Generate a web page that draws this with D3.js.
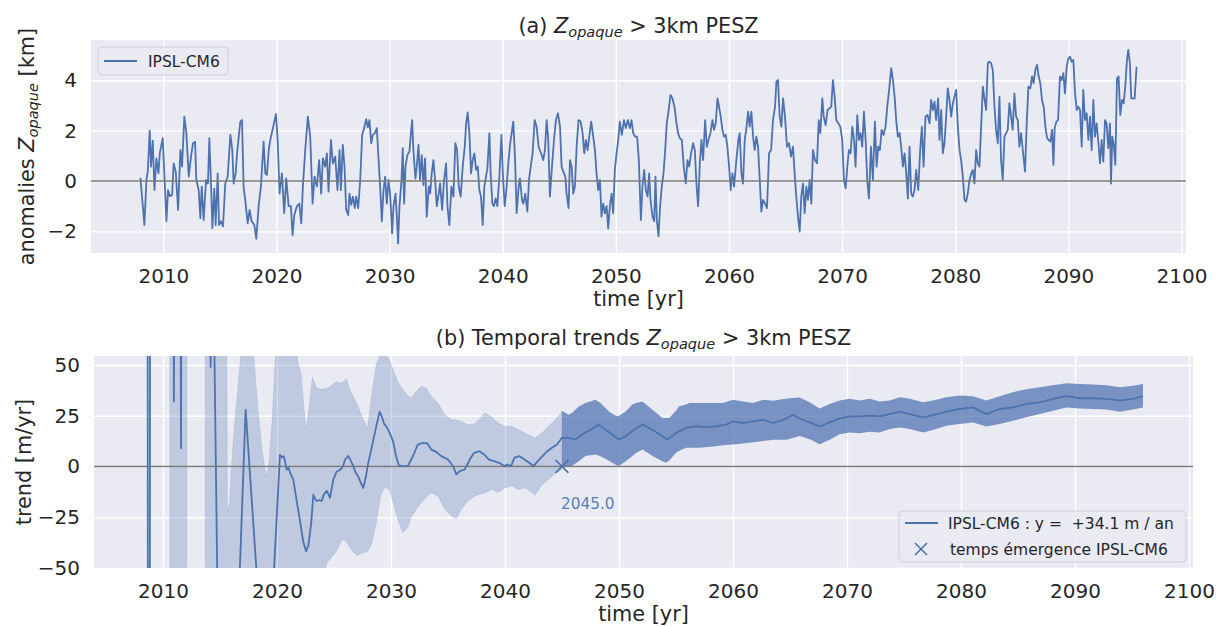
<!DOCTYPE html>
<html><head><meta charset="utf-8">
<script src="https://cdn.jsdelivr.net/npm/d3@7"></script>
<style>
body{margin:0;background:#fff;}
svg text{font-family:"DejaVu Sans",sans-serif;fill:#262626;}
</style></head>
<body><svg id="chart" width="1226" height="626"></svg>
<script>
// ---------- DATA ----------
const xTicks = [2010,2020,2030,2040,2050,2060,2070,2080,2090,2100];
const topYTicks = [-2,0,2,4];
const bottomYTicks = [-50,-25,0,25,50];
const modelName = "IPSL-CM6";
const trendLabel = "IPSL-CM6 : y =  +34.1 m / an";
const emergenceLabel = "temps émergence IPSL-CM6";
const emergenceYear = 2045.0;

// (a) anomalies Z_opaque [km]
const anomalyYears = [
2007.97,2008.32,2008.50,2008.62,2008.79,2008.91,2009.06,2009.21,2009.38,2009.56,2009.68,2009.94,2010.12,2010.27,2010.41,2010.56,2010.77,2010.91,2011.09,2011.30,2011.50,2011.65,2011.85,2012.03,2012.24,2012.44,2012.62,2012.80,2012.91,2013.12,2013.27,2013.39,2013.56,2013.77,2013.94,2014.06,2014.21,2014.33,2014.50,2014.62,2014.80,2014.92,2015.09,2015.27,2015.47,2015.68,2015.92,2016.09,2016.21,2016.39,2016.51,2016.80,2016.95,2017.09,2017.27,2017.45,2017.62,2017.80,2018.04,2018.21,2018.42,2018.62,2018.86,2019.01,2019.15,2019.33,2019.51,2019.74,2019.95,2020.10,2020.27,2020.48,2020.68,2020.86,2021.07,2021.27,2021.42,2021.57,2021.80,2022.01,2022.19,2022.33,2022.54,2022.77,2022.98,2023.19,2023.36,2023.57,2023.77,2023.95,2024.10,2024.30,2024.45,2024.60,2024.81,2024.98,2025.19,2025.39,2025.57,
2025.69,2025.86,2026.01,2026.16,2026.34,2026.45,2026.60,2026.75,2026.92,2027.04,2027.22,2027.40,2027.57,2027.75,2027.93,2028.07,2028.22,2028.37,2028.51,2028.69,2028.87,2028.98,2029.16,2029.31,2029.46,2029.60,2029.75,2029.90,2030.04,2030.22,2030.34,2030.52,2030.63,2030.75,2030.87,2031.05,2031.16,2031.28,2031.40,2031.57,2031.75,2031.87,2031.99,2032.10,2032.28,2032.40,2032.55,2032.69,2032.84,2032.99,2033.13,2033.28,2033.46,2033.58,2033.72,2033.87,2034.02,2034.17,2034.34,2034.46,2034.64,2034.81,2034.99,2035.11,2035.28,2035.46,2035.64,2035.81,2035.96,2036.11,2036.28,2036.46,2036.64,2036.76,2036.90,2037.05,2037.20,2037.34,2037.49,2037.64,2037.79,2037.93,2038.08,2038.23,2038.37,2038.52,2038.64,2038.82,2038.93,2039.08,2039.23,2039.37,2039.52,2039.70,2039.88,2040.02,2040.17,2040.35,2040.49,2040.64,2040.79,2040.93,2041.08,2041.23,2041.41,2041.52,2041.70,2041.82,2041.99,2042.17,2042.32,2042.47,2042.64,2042.82,2042.99,2043.17,
2043.44,2043.58,2043.73,2043.88,2044.02,2044.17,2044.35,2044.53,2044.70,2044.88,2045.06,2045.20,2045.35,2045.53,2045.64,2045.82,2045.94,2046.09,2046.23,2046.38,2046.53,2046.70,2046.88,2047.06,2047.20,2047.35,2047.50,2047.65,2047.82,2048.00,2048.15,2048.29,2048.44,2048.59,2048.73,2048.88,2049.03,2049.18,2049.32,2049.47,2049.62,2049.76,2049.91,2050.06,2050.21,2050.35,2050.53,2050.71,2050.88,2051.06,2051.24,2051.38,2051.53,2051.71,2051.88,2052.03,2052.21,2052.35,2052.50,2052.65,2052.80,2052.94,2053.06,2053.24,2053.39,2053.50,2053.62,2053.77,2053.91,2054.06,2054.21,2054.36,2054.50,2054.65,2054.83,2055.00,2055.18,2055.36,2055.50,2055.65,2055.83,2056.00,2056.18,2056.33,2056.48,2056.65,2056.83,2056.98,2057.12,2057.27,2057.42,2057.56,2057.71,2057.89,2058.04,2058.18,2058.36,2058.54,2058.68,2058.83,2058.98,2059.12,2059.27,2059.42,2059.57,2059.71,2059.86,2060.01,2060.15,2060.30,2060.45,2060.65,2060.83,
2060.95,2061.10,2061.24,2061.39,2061.54,2061.69,2061.83,2061.98,2062.13,2062.27,2062.42,2062.57,2062.72,2062.86,2063.01,2063.19,2063.36,2063.54,2063.72,2063.89,2064.07,2064.19,2064.33,2064.48,2064.63,2064.78,2064.95,2065.13,2065.31,2065.48,2065.66,2065.84,2065.95,2066.10,2066.25,2066.39,2066.54,2066.69,2066.84,2066.98,2067.13,2067.28,2067.42,2067.60,2067.78,2067.93,2068.07,2068.25,2068.37,2068.54,2068.72,2068.90,2069.04,2069.19,2069.34,2069.49,2069.66,2069.84,2070.01,2070.16,2070.31,2070.46,2070.60,2070.75,2070.90,2071.05,2071.19,2071.34,2071.49,2071.63,2071.78,2071.93,2072.08,2072.22,2072.37,2072.55,2072.72,2072.90,2073.05,2073.19,2073.34,2073.49,2073.66,2073.84,2073.99,2074.14,2074.34,2074.49,2074.64,2074.78,2074.93,2075.08,2075.22,2075.37,2075.52,2075.67,2075.81,2075.96,2076.11,2076.25,2076.40,2076.55,2076.73,2076.90,2077.05,2077.20,2077.37,2077.55,2077.73,2077.87,2078.02,2078.17,2078.31,2078.49,
2078.61,2078.76,2078.90,2079.05,2079.20,2079.34,2079.49,2079.64,2079.79,2079.93,2080.08,2080.23,2080.38,2080.52,2080.67,2080.82,2080.96,2081.11,2081.26,2081.41,2081.55,2081.70,2081.85,2081.99,2082.14,2082.29,2082.44,2082.58,2082.73,2082.88,2083.02,2083.17,2083.32,2083.47,2083.61,2083.76,2083.91,2084.05,2084.20,2084.35,2084.50,2084.64,2084.79,2084.94,2085.08,2085.23,2085.38,2085.53,2085.67,2085.82,2085.97,2086.17,2086.32,2086.47,2086.64,2086.79,2086.93,2087.08,2087.23,2087.38,2087.52,2087.67,2087.82,2087.97,2088.12,2088.26,2088.41,2088.56,2088.68,2088.79,2088.94,2089.09,2089.26,2089.41,2089.56,2089.70,2089.85,2090.00,2090.15,2090.29,2090.44,2090.59,2090.74,2090.88,2091.03,2091.18,2091.32,2091.47,2091.62,2091.77,2091.91,2092.06,2092.21,2092.35,2092.50,2092.65,2092.80,2092.94,2093.09,2093.24,2093.38,2093.53,2093.68,2093.77,2093.88,2094.00,2094.15,2094.30,2094.44,2094.59,2094.74,2094.89,2095.03,2095.18,2095.30,2095.44,2095.56,2095.71,2095.86,2096.03
];
const anomalyValues = [
0.13,-1.75,0.04,0.37,2.0,0.57,1.6,-0.36,0.9,0.3,1.1,1.7,-0.1,-1.6,-0.36,-0.6,-0.55,0.7,0.37,-1.15,1.23,0.57,2.56,1.9,0.17,0.97,1.5,1.56,0.04,-0.36,-1.48,-0.22,-1.55,0.04,-0.1,1.7,-0.1,-1.88,-0.3,-1.75,0.3,-1.75,-1.6,-1.8,-0.1,0.17,1.83,1.23,-0.1,0.3,1.1,2.36,2.42,-0.22,-0.9,-1.68,-1.15,-1.6,-1.75,-2.3,-1.0,-0.22,1.56,0.3,0.24,1.3,1.76,2.22,2.66,1.63,-0.5,0.3,-1.28,0.1,-1.0,-1.0,-2.15,-1.35,-1.0,-0.9,-1.68,-0.22,1.23,2.56,1.76,-0.9,0.17,-0.22,0.83,-0.5,0.9,0.57,1.1,-0.42,1.63,0.7,0.97,-0.36,1.23,
-0.36,1.43,0.57,-1.15,-1.35,-0.5,-0.95,-0.62,-1.08,-0.62,-1.08,0.04,1.83,2.1,2.46,2.13,2.42,1.5,1.83,1.9,2.1,1.17,-0.22,-1.6,-0.36,0.17,-0.9,0.04,-0.5,-2.08,-1.0,-0.5,-1.35,-2.48,-1.0,0.04,1.3,-0.9,0.57,1.03,1.17,1.83,2.42,1.23,0.1,0.57,1.43,0.04,1.03,-0.16,0.9,-1.42,-0.22,-0.5,0.3,0.83,0.04,-1.0,-0.5,-0.1,-1.15,0.04,0.7,-1.0,-1.75,-0.22,-0.62,1.5,1.23,-0.22,-0.62,0.57,1.36,2.29,2.72,1.9,0.3,0.83,1.1,0.44,0.57,-0.36,-0.62,-1.75,-0.22,0.17,0.5,1.9,0.3,-0.9,-1.0,-0.69,-1.0,0.17,1.83,0.17,-1.0,-0.22,0.7,1.43,1.9,2.36,0.97,-1.28,-0.22,0.1,-0.75,-0.9,-0.5,-1.22,0.04,0.57,1.1,2.42,2.16,1.36,
1.03,0.83,1.23,2.42,1.63,-0.62,0.57,1.63,2.42,2.69,2.16,0.57,0.37,0.17,-0.5,-1.08,0.83,0.57,-0.5,-0.22,1.36,2.42,2.36,1.9,1.1,1.63,1.23,1.76,2.36,1.76,1.23,0.3,-0.36,0.04,-1.42,-0.9,-1.28,-1.0,-1.88,-1.0,-0.5,-1.28,0.44,1.1,1.63,2.36,1.83,2.42,2.1,2.42,2.1,2.42,1.9,1.76,1.76,0.83,-1.55,-0.22,0.44,-0.36,-0.62,0.3,-0.75,-1.42,-1.6,0.17,-1.55,-2.19,-1.0,-0.22,0.3,1.23,2.29,2.75,3.42,3.28,2.95,2.29,1.9,1.7,1.63,0.57,-0.1,0.83,0.57,1.1,1.5,1.23,-0.1,-1.0,0.7,1.63,0.83,2.42,1.36,1.63,1.9,2.42,2.03,2.29,3.28,2.95,2.56,2.03,1.76,1.83,1.36,0.57,-0.36,0.3,-0.22,0.83,1.63,
1.9,0.3,-0.1,1.63,2.1,2.75,2.16,2.75,1.76,1.23,1.76,1.36,0.04,-1.22,-0.75,-0.9,-1.08,1.1,1.23,2.42,2.95,3.95,4.01,2.56,2.16,3.28,2.56,1.36,1.5,0.97,1.36,0.04,-0.62,-1.42,-2.01,-0.62,-0.1,-1.28,-0.22,-0.75,0.04,-0.9,1.23,0.83,0.7,2.42,1.9,3.28,2.56,2.22,2.82,2.89,2.95,4.01,3.35,2.42,2.29,2.16,1.63,0.04,-0.29,0.57,1.23,1.1,2.16,1.63,0.57,2.62,1.63,1.9,1.36,2.75,1.63,0.04,-0.69,1.36,0.04,2.36,0.57,1.36,1.23,2.03,1.83,2.16,2.95,3.55,4.48,4.01,3.35,2.42,1.76,1.9,1.36,0.57,1.1,0.3,-0.69,1.36,-0.5,-0.62,-0.36,0.44,-0.36,1.23,2.16,0.57,2.56,2.62,2.29,3.22,2.82,3.15,2.42,3.28,
1.63,2.82,1.1,1.5,2.56,3.68,3.22,2.56,3.09,3.35,3.62,2.16,1.23,0.83,0.17,-0.75,-0.82,-0.5,0.04,0.3,0.44,-0.1,1.23,0.7,0.57,2.16,3.75,3.28,2.82,4.68,4.74,4.68,4.41,2.95,2.03,1.5,3.35,0.83,0.04,1.76,1.9,2.03,3.09,2.56,2.03,3.48,2.56,2.42,1.36,1.9,1.23,0.37,2.29,3.75,3.68,4.15,3.88,4.41,4.61,4.15,3.88,3.22,2.95,2.16,1.7,1.63,1.56,2.03,0.64,2.1,2.36,2.42,4.15,4.01,4.28,3.48,4.54,4.87,4.94,4.74,4.81,3.48,2.82,2.95,2.82,1.36,3.62,2.42,2.69,1.63,2.56,1.23,3.22,1.76,2.29,1.56,0.7,1.63,0.77,2.42,2.29,1.3,2.29,-0.1,1.76,1.5,0.64,4.08,4.15,2.62,3.22,3.09,3.75,4.81,5.21,4.68,3.28,3.28,3.28,4.54
];

// (b) temporal trend [m/yr]
const trendYears = [
2008.45,2008.65,2008.68,2008.84,2008.87,2010.90,2010.96,2011.02,2011.52,2011.58,2011.64,2014.12,2014.18,2014.24,2014.30,2014.98,2016.10,2017.25,2018.85,2019.20,
2020.26,2020.45,2020.60,2020.70,2020.85,2021.00,2021.15,2021.43,2021.70,2022.00,2022.30,2022.55,2022.75,2023.00,2023.19,2023.35,2023.48,2023.70,2023.92,2024.10,2024.36,2024.50,2024.65,2024.94,2025.23,2025.45,2025.67,2025.85,2025.96,2026.26,2026.50,2026.70,2026.90,2027.13,2027.35,2027.57,2027.80,2028.00,2028.20,2028.45,2028.70,2029.00,2029.20,2029.40,2029.60,2029.80,2030.00,2030.20,2030.45,2030.70,2031.00,2031.47,2031.91,2032.35,2032.79,2033.18,2033.53,2033.97,2034.41,2035.00,2035.44,2035.74,2036.03,2036.47,2036.91,2037.29,2037.74,2038.18,2038.59,2039.03,2039.47,2039.94,2040.24,2040.53,2040.82,2041.24,2041.71,2042.12,2042.50,2042.88,2043.29,2043.71,2044.12,2044.56,2045.00,
2045.59,2046.18,2046.76,2047.50,2048.24,2048.82,2049.41,2050.00,2050.59,2051.32,2052.06,2052.94,2053.82,2054.26,2055.00,2055.88,2056.76,2057.65,2058.53,2059.41,2060.00,2060.88,2061.76,2062.65,2063.53,2064.41,2065.29,2065.85,2066.73,2067.60,2068.48,2069.36,2070.23,2071.11,2071.99,2072.87,2073.74,2074.62,2075.50,2076.67,2077.54,2078.71,2079.88,2081.05,2082.22,2083.39,2084.56,2085.73,2086.90,2088.07,2089.24,2090.41,2091.58,2092.75,2093.92,2095.09,2095.96
];
const trendValues = [
150,150,-150,-150,150,150,32,150,150,9,150,150,49,150,150,-150,-150,28,-105,-110,
5.7,4.5,5,2.5,-1.6,-0.5,-3,-6.5,-16,-26,-37,-41.7,-39,-28,-13.9,-16,-17,-16.5,-17,-14,-12,-13.5,-15.5,-6.5,-2.5,-2,-1,1,3.3,5.2,2.5,0,-3,-5,-8,-10.6,-5,1.6,6.5,13,19.5,27,24.5,21,19.6,17.5,15,12,5,0.5,0.2,0.2,4.9,10.8,11.6,11.4,8.3,7.2,5.1,3.4,0.2,-3.9,-2.3,-1.5,3.4,6.7,7.5,5.9,3.4,2.6,1.8,0.2,1.0,0.2,4.2,5.1,3.4,1.8,0.2,2.6,5.1,7.5,9.2,10.8,14.1,
14.1,13.2,15.7,18.1,20.6,18.1,15.7,13.2,14.9,18.1,20.6,18.1,14.9,13.2,16.5,19.0,19.8,19.4,19.8,20.6,22.2,21.4,22.2,23.0,21.4,23.0,25.5,23.5,21.7,19.7,21.7,23.7,24.7,24.7,25.0,24.7,25.8,27.0,25.8,24.2,25.3,27.0,28.3,29.1,25.8,28.3,29.1,30.8,31.6,33.3,34.6,33.6,33.6,33.3,32.5,33.3,34.6
];

// confidence band before emergence (NaN = band outside the plotted range)
const lightBandYears = [2010.60,2012.10,2012.11,2013.70,2015.55,2015.65,2015.85,2016.00,2016.30,2016.60,2016.90,2017.90,2018.30,2018.70,2019.00,2019.10,2019.30,2019.60,2019.90,2021.60,2021.85,2022.10,2022.35,2022.55,2022.80,2023.10,2023.45,2023.80,2024.00,2024.36,2024.60,2025.20,2025.70,2026.10,2026.40,2027.00,2027.50,2027.95,2028.30,2028.70,2029.10,2029.50,2029.90,2030.30,2030.59,2031.03,2031.47,2031.76,2032.21,2032.65,2033.09,2033.53,2034.12,2034.71,2035.29,2035.74,2036.18,2036.76,2037.35,2038.24,2038.82,2039.41,2040.00,2040.59,2041.18,2041.76,2042.35,2042.65,2043.24,2043.82,2044.41,2045.00];
const lightBandLow = [-150,-150,NaN,-150,-150,-150,-150,-150,-150,-150,-150,-150,-150,-150,-150,-150,-150,-150,-150,-150,-150,-150,-150,-150,-150,-150,-150,-70,-60,-47.4,-46,-42,-36,-37,-40,-44,-42.5,-42,-38,-28,-14,-10,-12,-20,-26,-32.5,-30,-25,-21.1,-18,-15,-12.9,-14.5,-21.1,-24.3,-25.7,-21.1,-17,-14.5,-12.9,-11.3,-12.9,-10.5,-9.6,-11.3,-10.5,-12.9,-14,-9,-6.4,-3.5,-1.5];
const lightBandHigh = [150,150,NaN,150,150,-22,-18,0,22,40,60,60,30,8,-3,-5,2,25,60,60,51,46,30,18,28,44,39,38,38,38.5,39,41.7,41,43.3,37.6,31,24,19,35,50,56,56,52,46,41.8,38,35,33.7,36.9,39.4,38.6,34.5,31.2,25.5,23.0,23.0,22,20.5,21,26.3,24.5,21.4,19.8,19.8,18.1,16.5,14.9,14.1,16.5,19.8,23.0,27.1];

// confidence band after emergence
const darkBandYears = [2045.00,2045.59,2045.88,2046.18,2046.47,2047.06,2047.94,2048.38,2048.68,2049.12,2049.41,2049.85,2050.00,2050.59,2051.18,2051.47,2052.06,2052.94,2053.82,2054.12,2054.41,2055.00,2055.29,2055.88,2056.18,2057.06,2058.24,2058.53,2059.12,2060.00,2060.88,2061.76,2062.65,2063.53,2064.71,2065.85,2066.73,2067.60,2068.48,2069.36,2070.23,2071.11,2071.99,2072.87,2073.74,2074.62,2075.50,2076.67,2077.54,2078.71,2079.88,2081.05,2082.22,2083.39,2084.56,2085.73,2086.90,2088.07,2089.24,2090.41,2091.58,2092.75,2093.92,2095.09,2095.96];
const darkBandLow = [0.2,0.2,0.2,1.5,2.6,5.1,5.9,5.0,4.2,2.8,1.8,0.5,0.2,2.6,5.1,6.5,8.3,5.1,2.6,1.8,3,6.7,7.8,9.2,9.2,9.2,9.8,10.0,10.4,10.8,11.3,11.9,12.5,13.2,13.2,15.0,13.4,10.9,13.1,15.9,16.7,16.4,17.1,16.7,18.4,19.2,18.4,16.7,18.0,20.0,20.9,21.7,19.7,20.9,22.5,24.2,25.8,27.5,29.1,28.6,28.3,28.0,27.0,28.0,29.1];
const darkBandHigh = [27.5,25.5,26.5,27.9,29.5,31.2,32.8,31.2,29.5,27.1,26,24.7,25,27.1,30.5,31.2,32.0,27.9,23.9,23.9,23.9,27.5,29.6,30.5,31.2,31.2,31.2,31.2,31.2,32.8,32.0,31.2,32.8,32.4,33.5,34,31.6,28.6,30.8,32.5,33.3,32.5,33.3,32.0,32.5,34.1,33.3,31.6,32.5,34.1,34.9,34.6,32.5,34.6,36.6,38.0,39.0,40.0,41.0,40.6,40.4,40.0,39.0,39.8,40.6];

// ---------- STYLE ----------
const BLUE = "#4C72B0", BG = "#EAEAF2", TXT = "#262626";
const svg = d3.select("#chart");

const topBox = {x0:91, x1:1186, y0:40, y1:253};
const botBox = {x0:94, x1:1193, y0:356, y1:568};
const xTop = d3.scaleLinear().domain([2003.6, 2100.4]).range([topBox.x0, topBox.x1]);
const yTop = d3.scaleLinear().domain([-2.86, 5.6]).range([topBox.y1, topBox.y0]);
const xBot = d3.scaleLinear().domain([2003.95, 2100.35]).range([botBox.x0, botBox.x1]);
const yBot = d3.scaleLinear().domain([-50, 54.4]).range([botBox.y1, botBox.y0]);

function panel(box, x, y, yTicks, id, xPad) {
  const g = svg.append("g");
  g.append("rect").attr("x",box.x0).attr("y",box.y0).attr("width",box.x1-box.x0).attr("height",box.y1-box.y0).attr("fill",BG);
  const gx = g.append("g").attr("transform",`translate(0,${box.y1})`)
    .call(d3.axisBottom(x).tickValues(xTicks).tickSize(-(box.y1-box.y0)).tickPadding(xPad).tickFormat(d3.format("d")));
  gx.select(".domain").remove();
  gx.selectAll(".tick line").attr("stroke","#fff").attr("stroke-width",1.4);
  gx.selectAll(".tick text").attr("font-size",20).attr("fill",TXT).attr("font-family","DejaVu Sans");
  const gy = g.append("g").attr("transform",`translate(${box.x0},0)`)
    .call(d3.axisLeft(y).tickValues(yTicks).tickSize(-(box.x1-box.x0)).tickPadding(14).tickFormat(d3.format("d")));
  gy.select(".domain").remove();
  gy.selectAll(".tick line").attr("stroke","#fff").attr("stroke-width",1.4);
  gy.selectAll(".tick text").attr("font-size",20).attr("fill",TXT).attr("font-family","DejaVu Sans");
  svg.append("clipPath").attr("id",id).append("rect")
    .attr("x",box.x0).attr("y",box.y0).attr("width",box.x1-box.x0).attr("height",box.y1-box.y0);
  return g.append("g").attr("clip-path",`url(#${id})`);
}

// ---------- PANEL (a) ----------
const pa = panel(topBox, xTop, yTop, topYTicks, "clipA", 16);
const topData = anomalyYears.map((t,i)=>({t, v:anomalyValues[i]}));
pa.append("path").datum(topData)
  .attr("fill","none").attr("stroke",BLUE).attr("stroke-width",1.8).attr("stroke-linejoin","round")
  .attr("d", d3.line().x(d=>xTop(d.t)).y(d=>yTop(d.v)));
pa.append("line").attr("x1",topBox.x0).attr("x2",topBox.x1).attr("y1",yTop(0)).attr("y2",yTop(0))
  .attr("stroke","#7a7a7a").attr("stroke-width",1.6);

// legend (a)
const la = svg.append("g");
la.append("rect").attr("x",98).attr("y",47).attr("width",130).attr("height",28).attr("rx",4)
  .attr("fill",BG).attr("fill-opacity",0.8).attr("stroke","#cfcfd6").attr("stroke-width",1);
la.append("line").attr("x1",104).attr("x2",137).attr("y1",61).attr("y2",61).attr("stroke",BLUE).attr("stroke-width",1.8);
la.append("text").attr("x",148).attr("y",66.5).attr("font-size",15.5).text(modelName);

// titles / labels (a)
function mathTitle(sel, pre, post) {
  sel.append("tspan").text(pre);
  sel.append("tspan").attr("font-style","italic").text("Z");
  sel.append("tspan").attr("font-style","italic").attr("font-size","0.7em").attr("dy",4).text("opaque");
  sel.append("tspan").attr("dy",-4).text(post);
}
mathTitle(svg.append("text").attr("x",638.5).attr("y",33).attr("text-anchor","middle").attr("font-size",20.8), "(a) ", " > 3km PESZ");
svg.append("text").attr("x",638.5).attr("y",306).attr("text-anchor","middle").attr("font-size",20.8).text("time [yr]");
mathTitle(svg.append("text").attr("transform","translate(34,146.5) rotate(-90)").attr("text-anchor","middle").attr("font-size",20.8), "anomalies ", " [km]");

// ---------- PANEL (b) ----------
const pb = panel(botBox, xBot, yBot, bottomYTicks, "clipB", 16);
const lightData = lightBandYears.map((t,i)=>({t, lo:lightBandLow[i], hi:lightBandHigh[i]}));
const darkData = darkBandYears.map((t,i)=>({t, lo:darkBandLow[i], hi:darkBandHigh[i]}));
const band = d3.area().defined(d=>!isNaN(d.lo)).x(d=>xBot(d.t)).y0(d=>yBot(d.lo)).y1(d=>yBot(d.hi));
pb.append("path").datum(lightData).attr("fill",BLUE).attr("fill-opacity",0.27).attr("stroke",BLUE).attr("stroke-opacity",0.15).attr("d",band);
pb.append("path").datum(darkData).attr("fill",BLUE).attr("fill-opacity",0.72).attr("d",band);
pb.append("line").attr("x1",botBox.x0).attr("x2",botBox.x1).attr("y1",yBot(0)).attr("y2",yBot(0))
  .attr("stroke","#7a7a7a").attr("stroke-width",1.6);
const trendData = trendYears.map((t,i)=>({t, v:trendValues[i]}));
pb.append("path").datum(trendData)
  .attr("fill","none").attr("stroke",BLUE).attr("stroke-width",1.8).attr("stroke-linejoin","round")
  .attr("d", d3.line().x(d=>xBot(d.t)).y(d=>yBot(d.v)));
pb.append("path").attr("transform",`translate(${xBot(emergenceYear)},${yBot(0)})`)
  .attr("d", d3.symbol().type(d3.symbolX).size(110)()).attr("fill","none").attr("stroke",BLUE).attr("stroke-width",1.6);
svg.append("text").attr("x",xBot(emergenceYear)-1).attr("y",509).attr("font-size",15.3).style("fill","#5a7db8")
  .text(d3.format(".1f")(emergenceYear));

// legend (b)
const lb = svg.append("g");
lb.append("rect").attr("x",899).attr("y",511).attr("width",287).attr("height",51).attr("rx",4)
  .attr("fill",BG).attr("fill-opacity",0.8).attr("stroke","#cfcfd6").attr("stroke-width",1);
lb.append("line").attr("x1",905).attr("x2",938).attr("y1",523).attr("y2",523).attr("stroke",BLUE).attr("stroke-width",1.8);
lb.append("text").attr("x",948).attr("y",529).attr("font-size",15.5).style("white-space","pre").text(trendLabel);
lb.append("path").attr("transform","translate(921,549)")
  .attr("d", d3.symbol().type(d3.symbolX).size(95)()).attr("fill","none").attr("stroke",BLUE).attr("stroke-width",1.6);
lb.append("text").attr("x",950).attr("y",554.5).attr("font-size",15.5).text(emergenceLabel);

// titles / labels (b)
mathTitle(svg.append("text").attr("x",643.5).attr("y",345).attr("text-anchor","middle").attr("font-size",20.8), "(b) Temporal trends ", " > 3km PESZ");
svg.append("text").attr("x",643.5).attr("y",621).attr("text-anchor","middle").attr("font-size",20.8).text("time [yr]");
svg.append("text").attr("transform","translate(31,462) rotate(-90)").attr("text-anchor","middle").attr("font-size",20.8).text("trend [m/yr]");
</script>
</body></html>
